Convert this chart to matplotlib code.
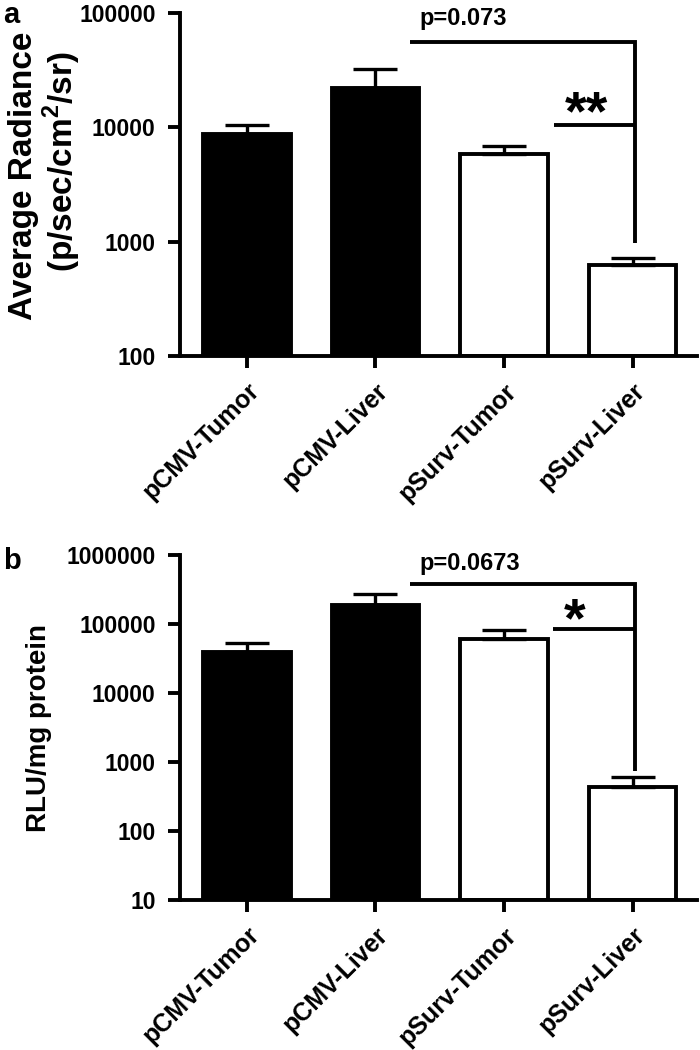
import matplotlib
matplotlib.use("Agg")
from matplotlib import pyplot as plt
from matplotlib.ticker import FixedLocator, NullLocator

groups = ['pCMV-Tumor', 'pCMV-Liver', 'pSurv-Tumor', 'pSurv-Liver']
bar_colors = ['black', 'black', 'white', 'white']

# panel a: in vivo imaging
radiance = [8700, 22000, 5800, 620]
radiance_err = [1700, 10200, 1000, 105]
radiance_ticks = [100, 1000, 10000, 100000]
radiance_ticklabels = ['100', '1000', '10000', '100000']

# panel b: luciferase assay
rlu = [39000, 190000, 60000, 430]
rlu_err = [13500, 86000, 21600, 172]
rlu_ticks = [10, 100, 1000, 10000, 100000, 1000000]
rlu_ticklabels = ['10', '100', '1000', '10000', '100000', '1000000']

plt.rcParams['font.family'] = ['Liberation Sans', 'DejaVu Sans']
plt.rcParams['font.weight'] = 'bold'
plt.rcParams['mathtext.fontset'] = 'custom'
plt.rcParams['mathtext.rm'] = 'Liberation Sans:bold'
plt.rcParams['mathtext.bf'] = 'Liberation Sans:bold'

LW = 2.8


def draw_panel(ax, values, errs, ticks, ticklabels, ylim):
    x = range(len(values))
    ax.set_yscale('log')
    ax.bar(x, [v - ylim[0] for v in values], width=0.68, bottom=ylim[0],
           color=bar_colors, edgecolor='black', linewidth=LW, zorder=2)
    ax.errorbar(x, values, yerr=[[0] * len(errs), errs], fmt='none',
                ecolor='black', elinewidth=2.4, capsize=16, capthick=2.4, zorder=3)
    ax.set_xlim(-0.52, 3.5)
    ax.set_ylim(*ylim)

    ax.yaxis.set_major_locator(FixedLocator(ticks))
    ax.yaxis.set_minor_locator(NullLocator())
    ax.set_yticklabels(ticklabels, fontsize=16.5, fontweight='bold')
    ax.set_xticks(list(x))
    ax.set_xticklabels(groups, rotation=45, ha='right', rotation_mode='anchor',
                       fontsize=18, fontweight='bold')

    ax.spines['right'].set_color('none')
    ax.spines['top'].set_color('none')
    ax.spines['left'].set_linewidth(LW)
    ax.spines['bottom'].set_linewidth(LW)
    ax.tick_params(axis='both', width=LW, length=8.5, direction='out')
    ax.tick_params(axis='y', pad=9)
    ax.tick_params(axis='x', pad=8)


def bracket(ax, x_left, x_short, x_right, y_top, y_mid, y_bottom):
    ax.plot([x_left, x_right, x_right], [y_top, y_top, y_bottom],
            color='black', linewidth=LW, clip_on=False, solid_capstyle='butt',
            solid_joinstyle='miter')
    ax.plot([x_short, x_right], [y_mid, y_mid], color='black', linewidth=LW,
            clip_on=False, solid_capstyle='butt')


fig = plt.figure(figsize=(7, 10.5), dpi=100)
ax1 = fig.add_axes([0.2571, 0.6610, 0.7386, 0.3267])
ax2 = fig.add_axes([0.2571, 0.1429, 0.7386, 0.3286])

draw_panel(ax1, radiance, radiance_err, radiance_ticks, radiance_ticklabels, (100, 100000))
bracket(ax1, 1.27, 2.39, 3.02, 55300, 10400, 980)
ax1.text(1.344, 90000, 'p=0.073', ha='left', va='center', fontsize=17, fontweight='bold')
ax1.text(2.64, 12800, '**', ha='center', va='center', fontsize=40, fontweight='bold')

draw_panel(ax2, rlu, rlu_err, rlu_ticks, rlu_ticklabels, (10, 1000000))
bracket(ax2, 1.27, 2.38, 3.02, 380000, 84600, 740)
ax2.text(1.344, 760000, 'p=0.0673', ha='left', va='center', fontsize=17, fontweight='bold')
ax2.text(2.55, 105000, '*', ha='center', va='center', fontsize=40, fontweight='bold')

# y-axis titles
fig.text(0.034, 1 - 176 / 1050, 'Average Radiance', rotation=90, ha='center',
         va='center', fontsize=24, fontweight='bold')
fig.text(0.089, 1 - 162 / 1050, '(p/sec/cm$^{2}$/sr)', rotation=90, ha='center',
         va='center', fontsize=24, fontweight='bold')
fig.text(0.056, 1 - 728 / 1050, 'RLU/mg protein', rotation=90, ha='center',
         va='center', fontsize=20, fontweight='bold')

# panel letters
fig.text(0.004, 1 - 15 / 1050, 'a', ha='left', va='center', fontsize=21, fontweight='bold')
fig.text(0.004, 1 - 561 / 1050, 'b', ha='left', va='center', fontsize=21, fontweight='bold')

plt.savefig('out.png', dpi=100)
